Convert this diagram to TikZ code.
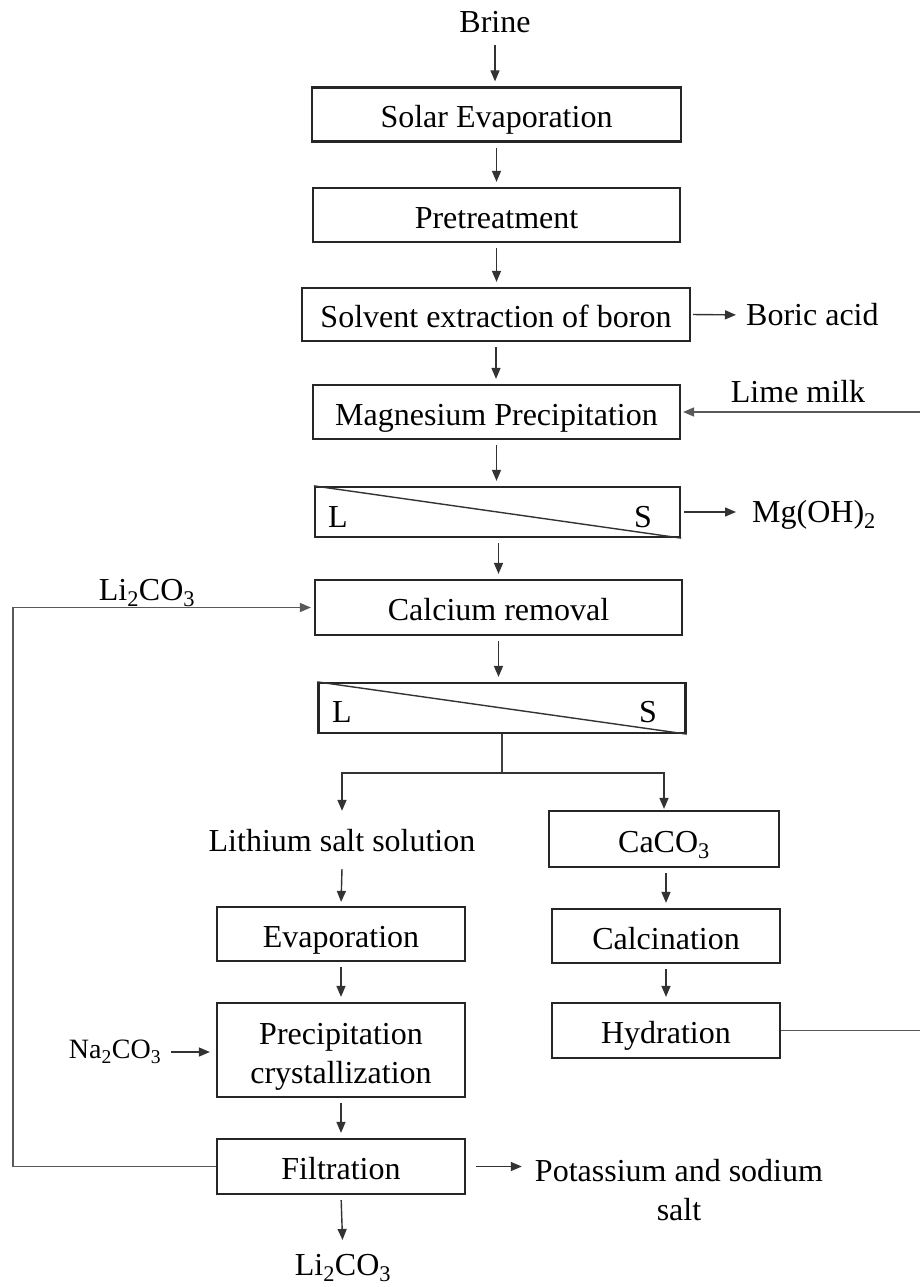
\documentclass[tikz,border=0pt]{standalone}
\usepackage{fontspec}
\setmainfont{Liberation Serif}
\usetikzlibrary{arrows.meta}
\begin{document}
\begin{tikzpicture}[x=1pt,y=-1pt,
 basebox/.style={draw=black!85, line width=2.2pt, minimum height=54pt, inner sep=0pt, font=\fontsize{32}{39}\selectfont},
 box/.style={basebox, text height=26pt, text depth=0pt},
 txt/.style={inner sep=0pt, font=\fontsize{32}{39}\selectfont},
 smalltxt/.style={inner sep=0pt, font=\fontsize{28}{34}\selectfont},
 arr/.style={draw=black!80, line width=1.4pt, -{Triangle[length=11pt,width=9pt]}, shorten >=5pt, shorten <=5pt},
 ln/.style={draw=black!65, line width=1.5pt},
 diag/.style={draw=black!80, line width=1.4pt}]
\useasboundingbox (0,0) rectangle (920,1287);
\fill[white] (0,0) rectangle (920,1287);

% main column
\node[txt] (brine) at (495,22) {Brine};
\node[box, minimum width=369pt] (solar) at (496.5,114.5) {Solar Evaporation};
\node[box, minimum width=367pt] (pre) at (496.5,215) {Pretreatment};
\node[box, minimum width=388pt, minimum height=53pt] (solv) at (496,314.5) {Solvent extraction of boron};
\node[box, minimum width=367pt] (mag) at (496.5,412) {Magnesium Precipitation};
\node[box, minimum width=365pt, minimum height=50pt] (ls1) at (497.5,512) {};
\node[box, minimum width=367pt, minimum height=55pt] (cal) at (498.5,607.5) {Calcium removal};
\node[box, minimum width=367pt, minimum height=50pt] (ls2) at (502,708) {};

% L/S separators
\draw[diag] (ls1.north west) -- (ls1.south east);
\node[txt] (l1) at (338,517) {L};
\node[txt] (s1) at (643,517) {S};
\draw[diag] (ls2.north west) -- (ls2.south east);
\node[txt] (l2) at (342,712) {L};
\node[txt] (s2) at (648,712) {S};

% side products / inputs
\node[txt, anchor=west] (boric) at (746,315) {Boric acid};
\node[txt] (lime) at (798,392) {Lime milk};
\node[txt, anchor=west] (mgoh) at (752,515) {Mg(OH)\textsubscript{2}};
\node[txt] (li2top) at (147,593) {Li\textsubscript{2}CO\textsubscript{3}};

% lower branches
\node[txt, minimum height=54pt] (lss) at (342,841) {Lithium salt solution};
\node[box, minimum width=230pt, minimum height=56pt] (caco3) at (664,839) {CaCO\textsubscript{3}};
\node[box, minimum width=248pt] (evap) at (341,934) {Evaporation};
\node[box, minimum width=228pt] (calc) at (666,936) {Calcination};
\node[basebox, text height=66pt, text depth=0pt, minimum width=248pt, minimum height=94pt, align=center] (prec) at (341,1050) {Precipitation\\crystallization};
\node[box, minimum width=228pt, minimum height=55pt] (hyd) at (666,1030.5) {Hydration};
\node[smalltxt] (na) at (115,1052) {Na\textsubscript{2}CO\textsubscript{3}};
\node[box, minimum width=248pt, minimum height=55pt] (filt) at (341,1166.5) {Filtration};
\node[txt, align=center] (pot) at (679,1190) {Potassium and sodium\\salt};
\node[txt] (li2bot) at (343,1268) {Li\textsubscript{2}CO\textsubscript{3}};

% main arrows
\draw[arr, shorten <=12pt] (brine.south) -- (brine.south |- solar.north);
\draw[arr] (pre.north |- solar.south) -- (pre.north);
\draw[arr] (pre.south) -- (pre.south |- solv.north);
\draw[arr] (solv.south) -- (solv.south |- mag.north);
\draw[arr] (mag.south) -- (mag.south |- ls1.north);
\draw[arr] (ls1.south -| cal.north) -- (cal.north);
\draw[arr] (cal.south) -- (cal.south |- ls2.north);

\draw[arr, shorten <=2pt, shorten >=10pt] (solv.east) -- (boric.west);
\draw[arr, shorten <=3pt, shorten >=16pt] (ls1.east) -- (ls1.east -| mgoh.west);

% branch
\coordinate (br) at (502,773);
\draw[ln, draw=black!75] (ls2.south) -- (br);
\draw[arr, shorten <=0pt, shorten >=3pt] (br) -| (lss.north);
\draw[arr, shorten <=0pt, shorten >=1pt] (br) -| (caco3.north);

\draw[arr, shorten <=1pt, shorten >=4pt] (lss.south) -- (evap.north);
\draw[arr] (caco3.south -| calc.north) -- (calc.north);
\draw[arr] (calc.south) -- (hyd.north);
\draw[arr] (evap.south) -- (prec.north);
\draw[arr] (prec.south) -- (filt.north);
\draw[arr, shorten <=10pt, shorten >=6pt] (na.east) -- (na.east -| prec.west);
\draw[arr, shorten <=10pt, shorten >=13pt] (filt.east) -- (filt.east -| pot.west);
\draw[arr, shorten >=14pt] (filt.south) -- (li2bot.north);

% recycle lines
\draw[ln, -{Triangle[length=11pt,width=9pt]}, shorten >=3pt] (filt.west) -- (13,1166.5) |- (cal.west);
\draw[ln, -{Triangle[length=11pt,width=9pt]}, shorten >=2pt] (hyd.east) -| (925,412) -- (mag.east);
\end{tikzpicture}
\end{document}
